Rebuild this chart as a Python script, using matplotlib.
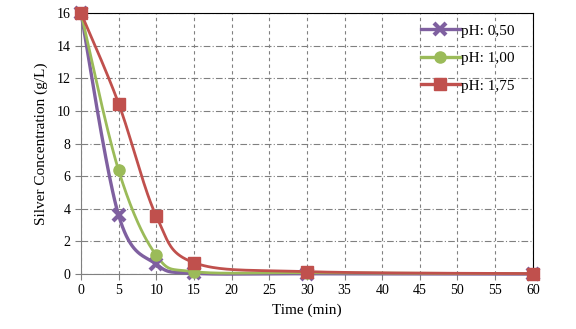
import matplotlib
matplotlib.use("Agg")
import matplotlib.pyplot as plt
import numpy as np

plt.rcParams["font.family"] = ["Liberation Serif", "DejaVu Serif"]

time_min = [0, 5, 10, 15, 30, 60]
ph_050 = [16.0, 3.6, 0.6, 0.05, 0.02, 0.0]
ph_100 = [16.0, 6.35, 1.15, 0.15, 0.08, 0.02]
ph_175 = [16.0, 10.45, 3.55, 0.7, 0.15, 0.03]
labels = ["pH: 0,50", "pH: 1,00", "pH: 1,75"]
colors = ["#7F60A0", "#9BBB59", "#C0504D"]
markers = ["x", "o", "s"]


def smooth(x, y, n=40):
    """Catmull-Rom style curve through the points (like Excel's smoothed line)."""
    p = np.column_stack([x, y]).astype(float)
    p = np.vstack([p[0], p, p[-1]])
    out = []
    for i in range(1, len(p) - 2):
        p0, p1, p2, p3 = p[i - 1], p[i], p[i + 1], p[i + 2]
        c1 = p1 + (p2 - p0) / 6.0
        c2 = p2 - (p3 - p1) / 6.0
        t = np.linspace(0, 1, n)[:, None]
        seg = ((1 - t) ** 3) * p1 + 3 * ((1 - t) ** 2) * t * c1 \
            + 3 * (1 - t) * t ** 2 * c2 + t ** 3 * p2
        out.append(seg if i == 1 else seg[1:])
    s = np.vstack(out)
    return s[:, 0], s[:, 1]


fig = plt.figure(figsize=(5.76, 3.29), dpi=100)
ax = fig.add_axes([0.1406, 0.167, 0.7844, 0.7935])

for ys, lab, c, m in zip([ph_050, ph_100, ph_175], labels, colors, markers):
    sx, sy = smooth(time_min, ys)
    ax.plot(sx, sy, color=c, lw=2.4 if m == "x" else 2.0, zorder=3, clip_on=False)
    if m == "x":
        ax.plot(time_min, ys, ls="none", marker="x", ms=8, mew=3, color=c,
                zorder=4, clip_on=False)
    else:
        ax.plot(time_min, ys, ls="none", marker=m, ms=8, color=c, mec=c,
                zorder=4, clip_on=False)
    ax.plot([], [], color=c, lw=2.4, marker=m, ms=8, mew=3 if m == "x" else 1,
            mec=c, label=lab)

ax.set_xlim(0, 60)
ax.set_ylim(0, 16)
ax.set_xticks(np.arange(0, 61, 5))
ax.set_yticks(np.arange(0, 17, 2))
ax.tick_params(labelsize=10, length=4, direction="out", color="#808080")
ax.grid(True, axis="x", color="#808080", ls=(0, (3, 3)), lw=0.8)
ax.grid(True, axis="y", color="#808080", ls=(0, (6, 2, 1, 2)), lw=0.8)
ax.set_axisbelow(True)
for side in ["left", "bottom"]:
    ax.spines[side].set_color("#808080")
for side in ["top", "right"]:
    ax.spines[side].set_color("black")

ax.set_xlabel("Time (min)", fontsize=11, labelpad=4)
ax.set_ylabel("Silver Concentration (g/L)", fontsize=11, labelpad=6)

ax.legend(loc="upper right", frameon=False, fontsize=11, handlelength=2.5,
          handletextpad=0.1, labelspacing=0.9, bbox_to_anchor=(0.99, 1.01))

fig.savefig("out.png", dpi=100)
